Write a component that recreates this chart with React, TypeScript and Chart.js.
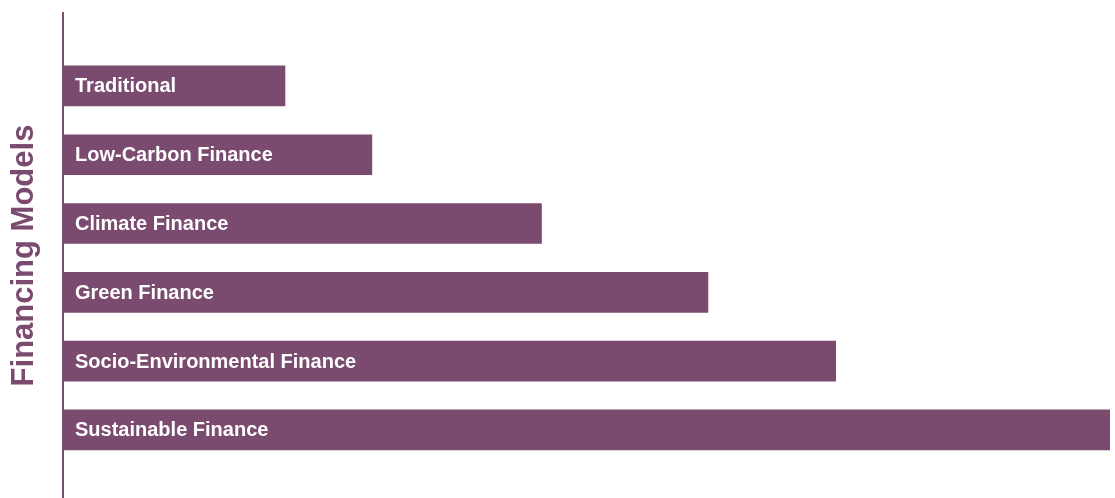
import React, { useEffect, useRef } from "react";
import { Chart, registerables } from "chart.js";

Chart.register(...registerables);

const categories = [
  "Traditional",
  "Low-Carbon Finance",
  "Climate Finance",
  "Green Finance",
  "Socio-Environmental Finance",
  "Sustainable Finance",
];
const values = [21.2, 29.5, 45.7, 61.6, 73.8, 100];
const axisTitle = "Financing Models";

const PURPLE = "#7a4a6f";
const FONT = "'Liberation Sans', Arial, Helvetica, sans-serif";

const barLabels = {
  id: "barLabels",
  afterDatasetsDraw(chart: any) {
    const ctx = chart.ctx;
    const meta = chart.getDatasetMeta(0);
    ctx.save();
    ctx.fillStyle = "#ffffff";
    ctx.font = `bold 20px ${FONT}`;
    ctx.textAlign = "left";
    ctx.textBaseline = "middle";
    meta.data.forEach((bar: any, i: number) => {
      const p = bar.getProps(["x", "y", "base"], true);
      ctx.fillText(categories[i], Math.min(p.base, p.x) + 12, p.y + 1);
    });
    ctx.restore();
  },
};

export default function App() {
  const ref = useRef<HTMLCanvasElement>(null);
  useEffect(() => {
    document.body.style.margin = "0";
    const chart = new Chart(ref.current!, {
      type: "bar",
      data: {
        datasets: [
          {
            data: values.map((v, i) => ({ x: v, y: i })),
            backgroundColor: PURPLE,
            borderWidth: 0,
            barThickness: 40,
          },
        ],
      },
      options: {
        indexAxis: "y",
        animation: false,
        responsive: true,
        maintainAspectRatio: false,
        layout: { padding: { top: 13, right: 5, bottom: 0, left: 0 } },
        plugins: {
          legend: { display: false },
          tooltip: { enabled: false },
        },
        scales: {
          x: {
            type: "linear",
            display: false,
            min: 0,
            max: 100,
          },
          y: {
            type: "linear",
            reverse: true,
            offset: false,
            min: -1.06,
            max: 5.99,
            ticks: { display: false },
            grid: { display: false, offset: false },
            border: { display: true, color: PURPLE, width: 2 },
            title: {
              display: true,
              text: axisTitle,
              color: PURPLE,
              font: { family: FONT, size: 31, weight: "bold" },
              padding: { top: 6, bottom: 0 },
            },
            afterFit(scale: any) {
              scale.width = 63;
            },
          },
        },
      },
      plugins: [barLabels],
    });
    return () => chart.destroy();
  }, []);
  return (
    <div style={{ position: "fixed", left: 0, top: 0, width: 1115, height: 498 }}>
      <canvas ref={ref} />
    </div>
  );
}
